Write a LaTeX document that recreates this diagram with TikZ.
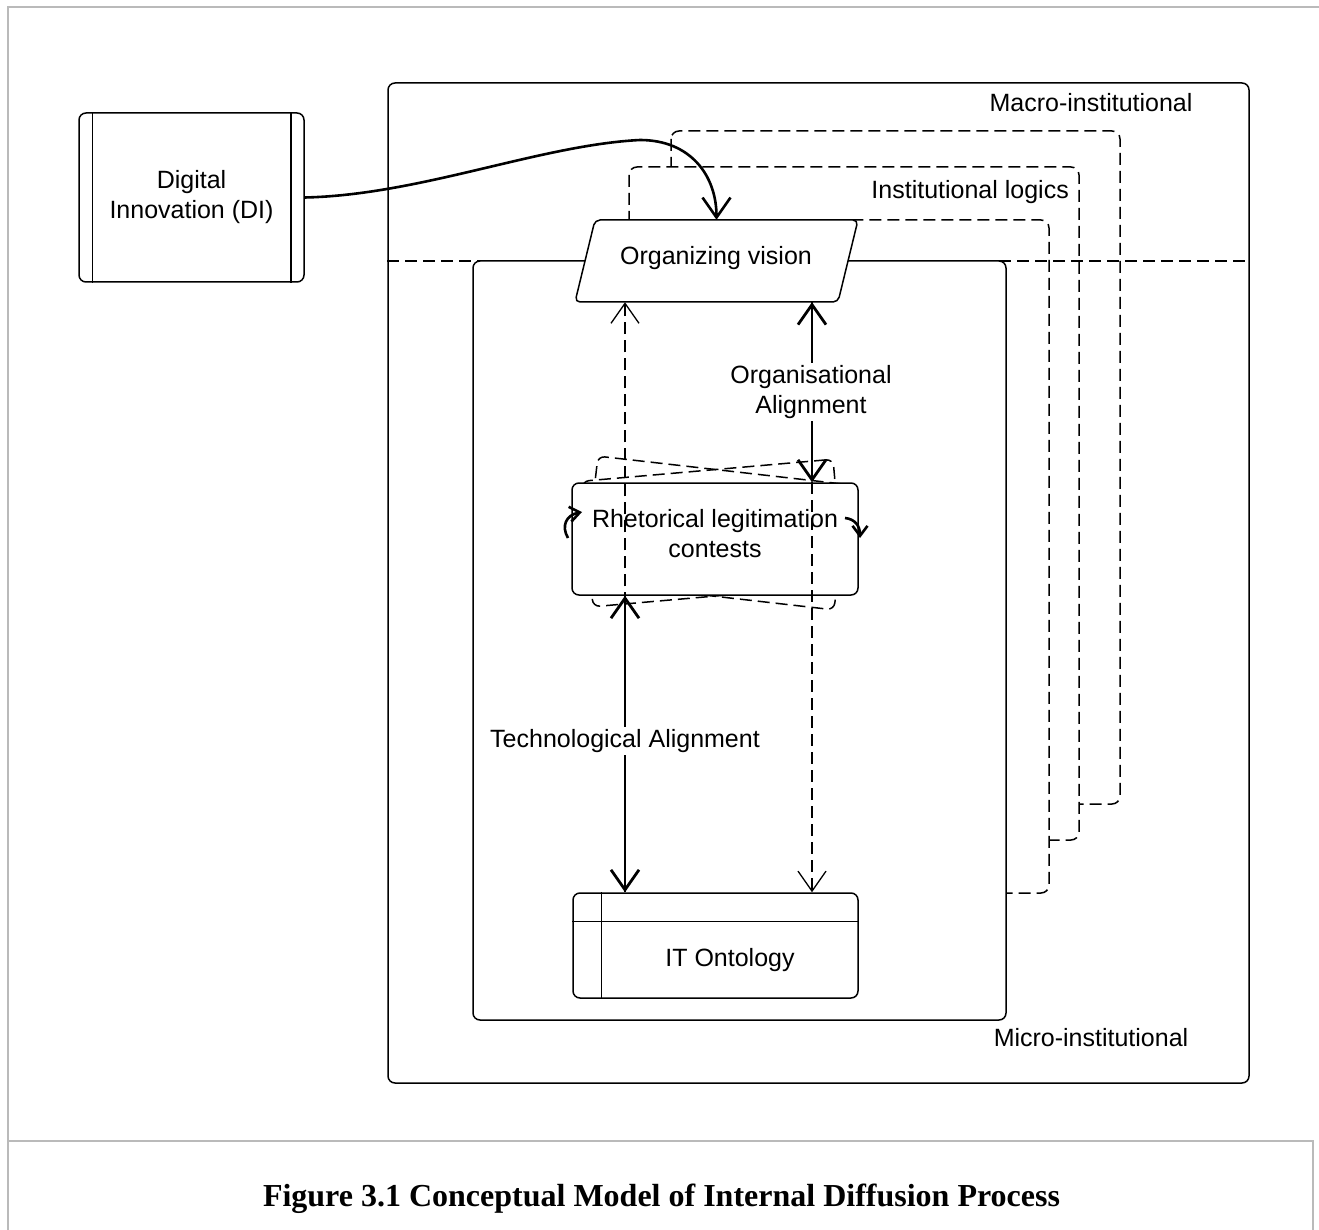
\documentclass[tikz,border=0pt]{standalone}
\usepackage{fontspec}
\setmainfont{Liberation Sans}
\newfontfamily\capfont{Liberation Serif}
\usetikzlibrary{arrows.meta,calc}
\begin{document}
\begin{tikzpicture}[x=1pt,y=-1pt,
  font=\fontsize{25}{30}\selectfont,
  thinline/.style={line width=1.5pt},
  solidbox/.style={draw, line width=1.5pt, rounded corners=7pt, fill=white, inner sep=0pt},
  dashbox/.style={draw, line width=1.5pt, dash pattern=on 12pt off 6pt, rounded corners=8pt, fill=white},
  rotbox/.style={draw, line width=1.5pt, dash pattern=on 12pt off 6pt, rounded corners=7pt, minimum width=252pt, minimum height=126pt, inner sep=0pt},
  bigtip/.tip={Straight Barb[length=20pt,width=28pt]},
  smalltip/.tip={Straight Barb[length=10pt,width=15pt]},
  thickarrow/.style={line width=2.8pt, bigtip-bigtip},
  dasharrow/.style={line width=1.3pt, dash pattern=on 12pt off 6pt, -bigtip},
  lbl/.style={fill=white, inner sep=2pt, align=center},
  frameline/.style={draw=black!27, line width=2pt}
]
\useasboundingbox (0,0) rectangle (1319,1230);

% page frame
\draw[frameline] (8,1230) -- (8,7) -- (1319,7);
\draw[frameline] (8,1141) -- (1313,1141) -- (1313,1230);

% macro box
\node[draw, line width=1.5pt, rounded corners=7pt, minimum width=861pt, minimum height=1000pt, inner sep=0pt] (macro) at (818.5,583) {};
\node (macrolbl) at (1091,103) {Macro-institutional};

% institutional logics stack
\draw[dashbox] (671,131) rectangle (1120,804);
\draw[dashbox] (629,167) rectangle (1079,840);
\draw[dashbox] (600,220) rectangle (1049,893);
\node[anchor=east, inner sep=0pt] (illbl) at (1069,192) {Institutional logics};

% macro/micro divider
\coordinate (divy) at (0,261);
\draw[line width=1.5pt, dash pattern=on 12pt off 6pt] (macro.west |- divy) -- (macro.east |- divy);

% micro box
\node[solidbox, minimum width=533pt, minimum height=759pt] (micro) at (739.5,640.5) {};
\node (microlbl) at (1091,1038) {Micro-institutional};

% organizing vision
\draw[thinline, fill=white, rounded corners=5pt] (595,220) -- (858,220) -- (838,302) -- (575,302) -- cycle;
\node[minimum height=82pt, minimum width=240pt, inner sep=0pt] (ov) at (716.5,261) {};
\node (ovtext) at (716,258) {Organizing vision};

% digital innovation
\node[solidbox, minimum width=225pt, minimum height=169pt, align=center] (di) at (191.5,197.5) {Digital\\Innovation (DI)};
\draw[thinline] ([xshift=14pt]di.north west) -- ([xshift=14pt]di.south west);
\draw[thinline] ([xshift=-14pt]di.north east) -- ([xshift=-14pt]di.south east);

\draw[line width=2.6pt, -bigtip] (di.east) .. controls (420,195) and (540,145) .. (640,140)
  .. controls (690,140) and (716.5,175) .. (ov.north);

% rhetorical legitimation contests
\node[rotbox, rotate=-6.5] (rA) at (716,533) {};
\node[rotbox, rotate=5] (rB) at (713,533) {};
\node[solidbox, minimum width=286pt, minimum height=112pt] (rlc) at (715,539) {};

% IT ontology
\node[solidbox, minimum width=285pt, minimum height=105pt] (ito) at (715.5,945.5) {};
\draw[thinline] ([xshift=29pt]ito.north west) -- ([xshift=29pt]ito.south west);
\draw[thinline] ([yshift=-29pt]ito.north west) -- ([yshift=-29pt]ito.north east);
\node (itotext) at (730,960) {IT Ontology};

% connectors
\coordinate (xL) at (625,0);
\coordinate (xR) at (812,0);
\draw[dasharrow] (ito.north -| xL) -- (ov.south -| xL);
\draw[dasharrow] (ov.south -| xR) -- (ito.north -| xR);
\draw[thickarrow] (ov.south -| xR) -- (rlc.north -| xR);
\draw[thickarrow] (rlc.south -| xL) -- (ito.north -| xL);
\node[lbl] (oalbl) at (811,392) {Organisational\\Alignment};
\node[lbl] (talbl) at (625,741) {Technological Alignment};

\node[align=center] (rlctext) at (715,534) {Rhetorical legitimation\\contests};

% rotation marks
\draw[line width=2.6pt, -smalltip] (568,538) .. controls (561,526) and (566,515) .. (582,512);
\draw[line width=2.6pt, -smalltip] (845,518) .. controls (855,519) and (860,526) .. (860,538);

% caption
\node[anchor=base, font=\capfont\bfseries\fontsize{32}{38}\selectfont] (cap) at (661.5,1206) {Figure 3.1 Conceptual Model of Internal Diffusion Process};
\end{tikzpicture}
\end{document}
